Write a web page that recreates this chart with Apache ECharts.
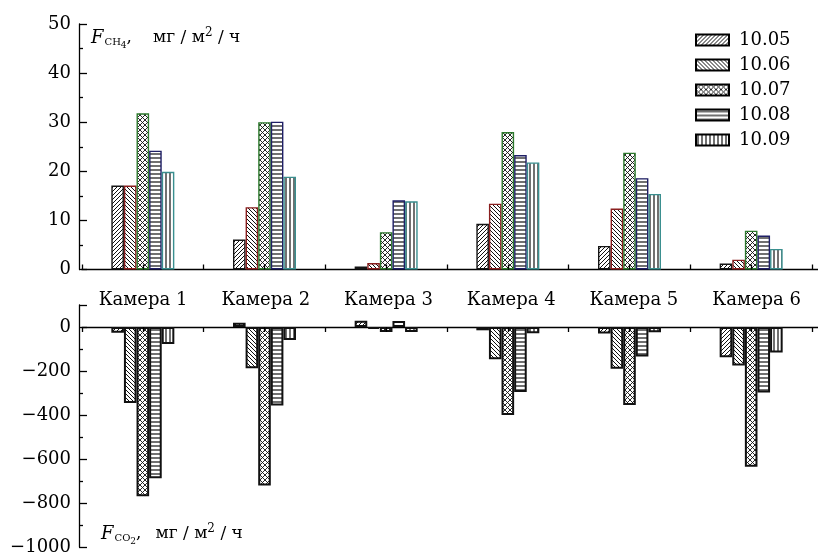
<!DOCTYPE html>
<html>
<head>
<meta charset="utf-8">
<script src="https://cdn.jsdelivr.net/npm/echarts@6/dist/echarts.min.js"></script>
<style>
  html, body { margin: 0; padding: 0; background: #fff; }
  #chart { width: 818px; height: 556px; }
</style>
</head>
<body>
<div id="chart"></div>
<script>
// Chambers and measurement dates
const cameras = ['Камера 1', 'Камера 2', 'Камера 3', 'Камера 4', 'Камера 5', 'Камера 6'];
const dates = ['10.05', '10.06', '10.07', '10.08', '10.09'];

// Methane flux, mg/m2/h
const ch4_1005 = [17.1, 6.1, 0.6, 9.3, 4.8, 1.2];
const ch4_1006 = [17.1, 12.7, 1.3, 13.4, 12.4, 2.0];
const ch4_1007 = [31.8, 30.0, 7.6, 28.0, 23.8, 7.9];
const ch4_1008 = [24.2, 30.1, 14.1, 23.3, 18.6, 6.9];
const ch4_1009 = [19.9, 18.9, 13.9, 21.8, 15.4, 4.2];

// Carbon dioxide flux, mg/m2/h
const co2_1005 = [-26, 19, 28, -15, -29, -137];
const co2_1006 = [-345, -187, -8, -147, -190, -175];
const co2_1007 = [-769, -721, -23, -400, -354, -635];
const co2_1008 = [-688, -357, 27, -296, -134, -298];
const co2_1009 = [-77, -59, -23, -28, -24, -116];

// Axis scales
const ch4Axis = { min: 0, max: 50, interval: 10 };
const co2Axis = { min: -1000, max: 100, interval: 200 };

const FONT = 'DejaVu Serif';

// Hatch fills drawn into small repeating tiles
function hatch(kind) {
  const s = { slash: 4, back: 4, cross: 5, horiz: 4, vert: 4 }[kind];
  const c = document.createElement('canvas');
  c.width = s; c.height = s;
  const g = c.getContext('2d');
  g.fillStyle = '#fff';
  g.fillRect(0, 0, s, s);
  g.strokeStyle = '#111';
  g.lineWidth = kind === 'cross' ? 0.9 : 1;
  g.beginPath();
  if (kind === 'slash' || kind === 'cross') {
    g.moveTo(-1, s + 1); g.lineTo(s + 1, -1);
    g.moveTo(-1, 1); g.lineTo(1, -1);
    g.moveTo(s - 1, s + 1); g.lineTo(s + 1, s - 1);
  }
  if (kind === 'back' || kind === 'cross') {
    g.moveTo(-1, -1); g.lineTo(s + 1, s + 1);
    g.moveTo(s - 1, -1); g.lineTo(s + 1, 1);
    g.moveTo(-1, s - 1); g.lineTo(1, s + 1);
  }
  if (kind === 'horiz') {
    g.lineWidth = 1.2;
    g.moveTo(0, 2); g.lineTo(s, 2);
  }
  if (kind === 'vert') {
    g.lineWidth = 1.2;
    g.moveTo(2, 0); g.lineTo(2, s);
  }
  g.stroke();
  return { image: c, repeat: 'repeat' };
}

const fills = [hatch('slash'), hatch('back'), hatch('cross'), hatch('horiz'), hatch('vert')];
const topBorders = ['#151515', '#8a1f1f', '#2d7a2d', '#1f1f66', '#3a8f8f'];
const ch4Series = [ch4_1005, ch4_1006, ch4_1007, ch4_1008, ch4_1009];
const co2Series = [co2_1005, co2_1006, co2_1007, co2_1008, co2_1009];

const series = [];
dates.forEach((d, i) => {
  series.push({
    type: 'bar', name: d, data: ch4Series[i],
    xAxisIndex: 0, yAxisIndex: 0,
    barWidth: 12.6, barGap: '0%',
    itemStyle: { color: fills[i], borderColor: topBorders[i], borderWidth: 1.4 },
    emphasis: { disabled: true }
  });
});
dates.forEach((d, i) => {
  series.push({
    type: 'bar', name: d, data: co2Series[i],
    xAxisIndex: 2, yAxisIndex: 1,
    barWidth: 12.6, barGap: '0%',
    itemStyle: { color: fills[i], borderColor: '#111', borderWidth: 2 },
    emphasis: { disabled: true }
  });
});

const axisText = { fontFamily: FONT, fontSize: 18, color: '#000' };
const minus = v => (v < 0 ? '\u2212' + Math.abs(v) : String(v));
const lineStyle = { color: '#000', width: 1.3 };

// Tick-only category axes: boundary ticks and centre ticks
const hiddenCat = (grid, pos, alignCenter) => ({
  type: 'category', gridIndex: grid, data: cameras, position: pos, z: 5,
  axisLine: { show: false, onZero: true },
  axisLabel: { show: false },
  axisTick: { show: true, inside: true, length: 5, alignWithLabel: alignCenter, lineStyle: lineStyle },
  splitLine: { show: false }
});

// Axis title with sub/superscripts built from rich-text tokens
function fluxTitle(gas, digit, gap) {
  const base = { fontFamily: FONT, verticalAlign: 'top', fill: '#000' };
  return {
    text: '{f|F}{s|' + gas + '}{n|' + digit + '}{t|,}{g|мг / м}{p|2}{t| / ч}',
    rich: {
      f: Object.assign({ fontStyle: 'italic', fontSize: 18, lineHeight: 20, padding: [4, 0, 0, 0] }, base),
      s: Object.assign({ fontSize: 10, lineHeight: 10, padding: [12, 0, 0, 1] }, base),
      n: Object.assign({ fontSize: 9, lineHeight: 9, padding: [16, 0, 0, 0] }, base),
      t: Object.assign({ fontSize: 17, lineHeight: 20, padding: [4, 0, 0, 0] }, base),
      g: Object.assign({ fontSize: 17, lineHeight: 20, padding: [4, 0, 0, gap] }, base),
      p: Object.assign({ fontSize: 12, lineHeight: 12, padding: [2, 0, 0, 0] }, base)
    }
  };
}

const plotLeft = 82, plotWidth = 730;
const topTop = 24, topHeight = 245.5;
const botTop = 305, botHeight = 243;

const option = {
  backgroundColor: '#fff',
  animation: false,
  textStyle: { fontFamily: FONT },
  grid: [
    { left: plotLeft, width: plotWidth, top: topTop, height: topHeight },
    { left: plotLeft, width: plotWidth, top: botTop, height: botHeight },
    { left: 81.7, width: 747.6, top: topTop, height: topHeight },
    { left: plotLeft, right: 0, top: botTop, height: botHeight }
  ],
  xAxis: [
    hiddenCat(0, 'bottom', false),
    hiddenCat(0, 'bottom', true),
    hiddenCat(1, 'top', false),
    hiddenCat(1, 'top', true),
    {
      type: 'category', gridIndex: 2, data: cameras, position: 'bottom',
      axisLine: { show: true, lineStyle: lineStyle },
      axisTick: { show: false },
      axisLabel: Object.assign({ margin: 22 }, axisText)
    },
    {
      type: 'category', gridIndex: 3, data: cameras, position: 'bottom',
      axisLine: { show: true, onZero: true, lineStyle: lineStyle },
      axisTick: { show: false },
      axisLabel: { show: false }
    }
  ],
  yAxis: [
    {
      type: 'value', gridIndex: 0, min: ch4Axis.min, max: ch4Axis.max, interval: ch4Axis.interval,
      offset: 3,
      axisLine: { show: true, lineStyle: lineStyle },
      axisTick: { show: true, inside: true, length: 8, lineStyle: lineStyle },
      minorTick: { show: true, splitNumber: 2, length: 4, lineStyle: lineStyle },
      splitLine: { show: false },
      axisLabel: Object.assign({ margin: 8, formatter: minus }, axisText)
    },
    {
      type: 'value', gridIndex: 1, min: co2Axis.min, max: co2Axis.max, interval: co2Axis.interval,
      offset: 3,
      axisLine: { show: true, lineStyle: lineStyle },
      axisTick: { show: true, inside: true, length: 8, lineStyle: lineStyle },
      minorTick: { show: true, splitNumber: 2, length: 4, lineStyle: lineStyle },
      splitLine: { show: false },
      axisLabel: Object.assign({ margin: 8, formatter: minus, showMaxLabel: false }, axisText)
    },
    { type: 'value', gridIndex: 2, min: ch4Axis.min, max: ch4Axis.max, show: false },
    { type: 'value', gridIndex: 3, min: co2Axis.min, max: co2Axis.max, show: false },
    // second zero reference in the CO2 grid for the centre-tick axis
    { type: 'value', gridIndex: 1, min: co2Axis.min, max: co2Axis.max, show: false }
  ],
  legend: {
    data: dates, orient: 'vertical', left: 690, top: 26,
    itemWidth: 33, itemHeight: 11, itemGap: 7, icon: 'rect',
    selectedMode: false,
    itemStyle: { borderColor: '#000', borderWidth: 2 },
    textStyle: { fontFamily: FONT, fontSize: 18, color: '#000', padding: [0, 0, 0, 5] }
  },
  graphic: [
    { type: 'text', left: 91, top: 25, z: 10, style: fluxTitle('CH', '4', 21) },
    { type: 'text', left: 101, top: 521, z: 10, style: fluxTitle('CO', '2', 14) }
  ],
  series: series
};

const chart = echarts.init(document.getElementById('chart'), null, { renderer: 'canvas' });
chart.setOption(option);
</script>
</body>
</html>
